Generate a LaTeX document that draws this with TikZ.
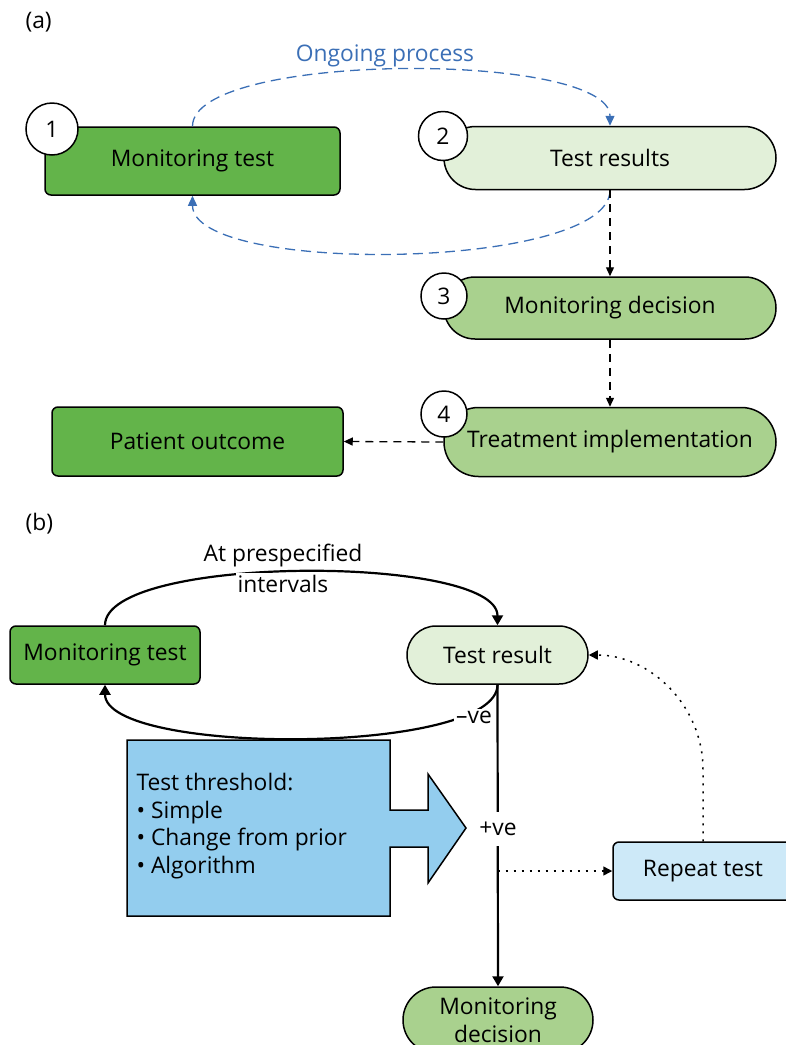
\documentclass[tikz,border=0pt]{standalone}
\usepackage{fontspec}
\setmainfont{Open Sans}
\usetikzlibrary{arrows.meta,shapes.misc}
\definecolor{darkgreen}{HTML}{63B44A}
\definecolor{palegreen}{HTML}{E2F0D9}
\definecolor{midgreen}{HTML}{A9D18E}
\definecolor{threshblue}{HTML}{93CDEE}
\definecolor{paleblue}{HTML}{CDE9F8}
\definecolor{lineblue}{HTML}{3B6FB6}
\begin{document}
\begin{tikzpicture}[x=1pt,y=1pt,
  font=\fontsize{22.8}{27.5}\selectfont,
  sqbox/.style={draw, line width=1.5pt, rounded corners=6pt, inner sep=0pt},
  pill/.style={draw, rounded rectangle, line width=1.5pt, inner sep=0pt},
  num/.style={circle, draw, fill=white, line width=1.5pt, inner sep=0pt},
  dasharrow/.style={line width=1.3pt, dash pattern=on 8pt off 6pt, -{Triangle[length=9pt,width=8pt]}},
  bluearrow/.style={draw=lineblue, line width=1.3pt, dash pattern=on 10pt off 6pt, -{Triangle[length=10pt,width=9pt]}},
  flow/.style={line width=2.2pt, -{Triangle[length=10pt,width=11pt]}},
  dotflow/.style={line width=1.5pt, dash pattern=on 2pt off 6pt, -{Triangle[length=9pt,width=9pt]}},
  cut/.style={fill=white, inner sep=2pt}]
\useasboundingbox (0,0) rectangle (786,-1045);

% ---------- panel (a) ----------
\node[anchor=west] (lbla) at (22,-22) {(a)};
\node[text=lineblue] (ongo) at (385,-56) {Ongoing process};

\node[sqbox, fill=darkgreen, minimum width=295pt, minimum height=68pt] (mta) at (192.5,-161) {Monitoring test};
\node[pill, fill=palegreen, minimum width=332pt, minimum height=63pt] (tra) at (610,-158) {Test results};
\node[pill, fill=midgreen, minimum width=332pt, minimum height=62pt] (mda) at (610,-308) {Monitoring decision};
\node[pill, fill=midgreen, minimum width=332pt, minimum height=69pt] (tia) at (610,-442) {Treatment implementation};
\node[sqbox, fill=darkgreen, minimum width=291pt, minimum height=69pt] (poa) at (197.5,-441.5) {Patient outcome};

\draw[bluearrow] (mta.north) .. controls +(0,75) and +(0,75) .. (tra.north);
\draw[bluearrow] (tra.south) .. controls +(0,-80) and +(0,-80) .. (mta.south);
\draw[dasharrow] (tra.south) -- (mda.north);
\draw[dasharrow] (mda.south) -- (tia.north);
\draw[dasharrow] (tia.west) -- (poa.east);

\node[num, minimum size=52pt] (c1) at (52,-129) {1};
\node[num, minimum size=49pt] (c2) at (443,-136) {2};
\node[num, minimum size=46pt] (c3) at (444,-296) {3};
\node[num, minimum size=46pt] (c4) at (444,-414) {4};

% ---------- panel (b) ----------
\node[anchor=west] (lblb) at (22,-524) {(b)};

\node[sqbox, fill=darkgreen, minimum width=190pt, minimum height=58pt] (mtb) at (105,-655) {Monitoring test};
\node[pill, fill=palegreen, minimum width=181pt, minimum height=58pt] (trb) at (497.5,-655) {Test result};
\node[sqbox, fill=paleblue, minimum width=180pt, minimum height=58pt] (rtb) at (703,-871) {Repeat test};
\node[pill, fill=midgreen, minimum width=190pt, minimum height=66pt, align=center] (mdb) at (498,-1020) {Monitoring\\decision};

% threshold block arrow
\draw[line width=1.5pt, fill=threshblue, line join=miter]
  (127,-740) -- (390,-740) -- (390,-810) -- (428,-810) -- (428,-774)
  -- (466,-828) -- (428,-883) -- (428,-847) -- (390,-847) -- (390,-916)
  -- (127,-916) -- cycle;
\node[anchor=west, align=left] (thr) at (133,-826)
  {Test threshold:\\• Simple\\• Change from prior\\• Algorithm};

\draw[flow] (mtb.north) .. controls +(0,71) and +(0,71) .. (trb.north);
\draw[flow] (trb.south) .. controls +(0,-71) and +(0,-71) .. (mtb.south);
\draw[flow] (trb.south) -- (mdb.north);
\coordinate (fork) at (trb.south |- rtb.west);
\draw[dotflow] (fork) -- (rtb.west);
\draw[dotflow] (rtb.north) -- ++(0,72) .. controls +(0,63) and +(62,0) .. (trb.east);

\node (atp) at (283,-556) {At prespecified};
\node[cut] (intv) at (283,-584) {intervals};
\node[cut] (neg) at (474,-717) {–ve};
\node[cut, inner ysep=10pt] (pos) at (498,-829) {+ve};
\end{tikzpicture}
\end{document}
